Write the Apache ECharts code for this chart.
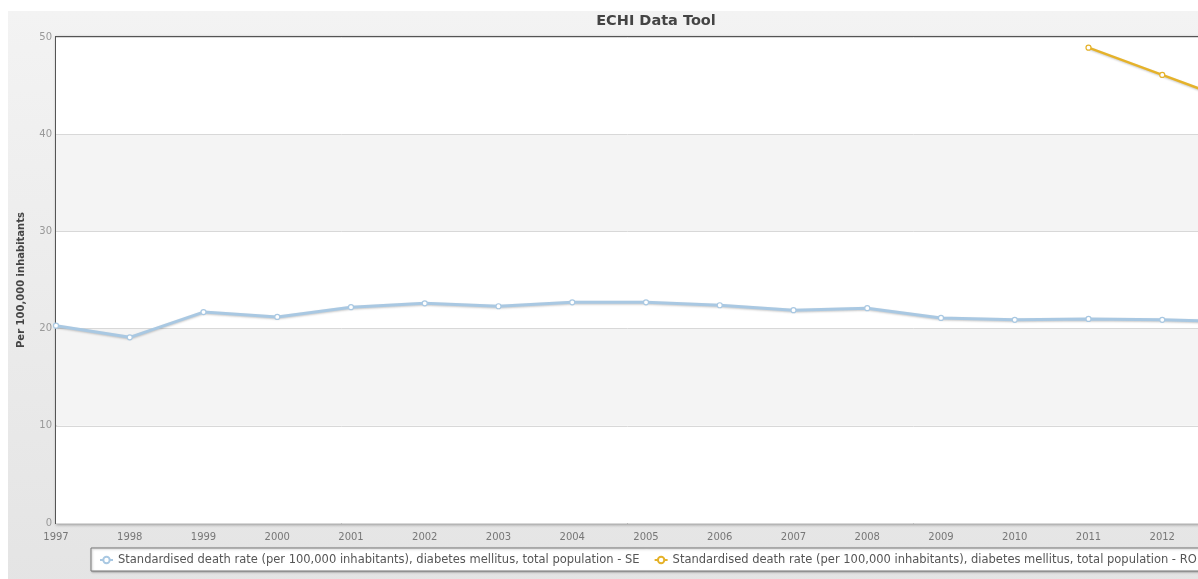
<!DOCTYPE html>
<html>
<head>
<meta charset="utf-8">
<script src="https://cdn.jsdelivr.net/npm/echarts@6/dist/echarts.min.js"></script>
<style>
  html, body { margin: 0; padding: 0; background: #ffffff; }
  #chart { width: 1198px; height: 579px; }
</style>
</head>
<body>
<div id="chart"></div>
<script>
// Years on the category axis
const years = ['1997','1998','1999','2000','2001','2002','2003','2004','2005','2006','2007','2008','2009','2010','2011','2012','2013'];

// Standardised death rate, diabetes mellitus, total population - SE
const seRates = [20.3, 19.1, 21.7, 21.2, 22.2, 22.6, 22.3, 22.7, 22.7, 22.4, 21.9, 22.1, 21.1, 20.9, 21.0, 20.9, 20.7];

// Same indicator for RO (reported from 2011 onwards)
const roRates = [null, null, null, null, null, null, null, null, null, null, null, null, null, null, 48.9, 46.1, 43.3];

const seriesNames = [
  'Standardised death rate (per 100,000 inhabitants), diabetes mellitus, total population - SE',
  'Standardised death rate (per 100,000 inhabitants), diabetes mellitus, total population - RO'
];

const yTicks = { min: 0, max: 50, interval: 10 };

const chart = echarts.init(document.getElementById('chart'), null, { renderer: 'canvas' });

const font = 'Verdana, "DejaVu Sans", sans-serif';

chart.setOption({
  animation: false,
  backgroundColor: '#ffffff',
  textStyle: { fontFamily: font },
  graphic: [{
    type: 'rect',
    silent: true,
    z: -10,
    shape: { x: 8, y: 11, width: 1200, height: 580 },
    style: {
      fill: new echarts.graphic.LinearGradient(0, 0, 0, 1, [
        { offset: 0, color: '#f3f3f3' },
        { offset: 1, color: '#e4e4e4' }
      ])
    }
  }],
  title: {
    text: 'ECHI Data Tool',
    left: 651,
    top: 9,
    textAlign: 'center',
    textStyle: { fontFamily: font, fontSize: 14.5, fontWeight: 'bold', color: '#444444' }
  },
  grid: {
    left: 56,
    top: 37,
    bottom: 56,
    right: -38,
    show: true,
    backgroundColor: '#ffffff',
    borderColor: '#555555',
    borderWidth: 2,
    shadowColor: 'rgba(0,0,0,0.25)',
    shadowBlur: 3,
    shadowOffsetX: 1,
    shadowOffsetY: 1,
    containLabel: false,
    outerBoundsMode: 'none'
  },
  legend: {
    left: 91,
    top: 548,
    width: 1600,
    padding: [6, 10, 5, 8],
    backgroundColor: '#ffffff',
    borderColor: '#777777',
    borderWidth: 1,
    shadowColor: 'rgba(0,0,0,0.25)',
    shadowBlur: 2,
    shadowOffsetX: 1,
    shadowOffsetY: 1,
    itemWidth: 13,
    itemHeight: 8,
    itemGap: 14,
    textStyle: { fontFamily: font, fontSize: 11.5, color: '#555555' },
    data: seriesNames
  },
  xAxis: {
    type: 'category',
    data: years,
    boundaryGap: false,
    axisLine: { show: false },
    axisTick: { show: false },
    axisLabel: { fontFamily: font, fontSize: 10, color: '#777777', margin: 9 },
    splitLine: { show: false }
  },
  yAxis: {
    type: 'value',
    min: yTicks.min,
    max: yTicks.max,
    interval: yTicks.interval,
    name: 'Per 100,000 inhabitants',
    nameLocation: 'middle',
    nameRotate: 90,
    nameGap: 30,
    nameTextStyle: { fontFamily: font, fontSize: 10, fontWeight: 'bold', color: '#444444' },
    axisLine: { show: false },
    axisTick: { show: false },
    axisLabel: { fontFamily: font, fontSize: 10, color: '#999999', margin: 4 },
    splitLine: { show: true, lineStyle: { color: '#d8d8d8', width: 1 } },
    splitArea: { show: true, areaStyle: { color: ['#ffffff', '#f4f4f4'] } }
  },
  series: [
    {
      name: seriesNames[0],
      type: 'line',
      data: seRates,
      symbol: 'circle',
      symbolSize: 5,
      showAllSymbol: true,
      clip: true,
      itemStyle: { color: '#ffffff', borderColor: '#a9c8e2', borderWidth: 1.2 },
      lineStyle: {
        color: '#a9c8e2', width: 3,
        shadowColor: 'rgba(0,0,0,0.2)', shadowBlur: 2, shadowOffsetY: 1
      },
      z: 3
    },
    {
      name: seriesNames[1],
      type: 'line',
      data: roRates,
      symbol: 'circle',
      symbolSize: 5,
      showAllSymbol: true,
      clip: true,
      itemStyle: { color: '#ffffff', borderColor: '#e5b22a', borderWidth: 1.2 },
      lineStyle: {
        color: '#e5b22a', width: 2.5,
        shadowColor: 'rgba(0,0,0,0.2)', shadowBlur: 2, shadowOffsetY: 1
      },
      z: 3
    }
  ]
});
</script>
</body>
</html>
